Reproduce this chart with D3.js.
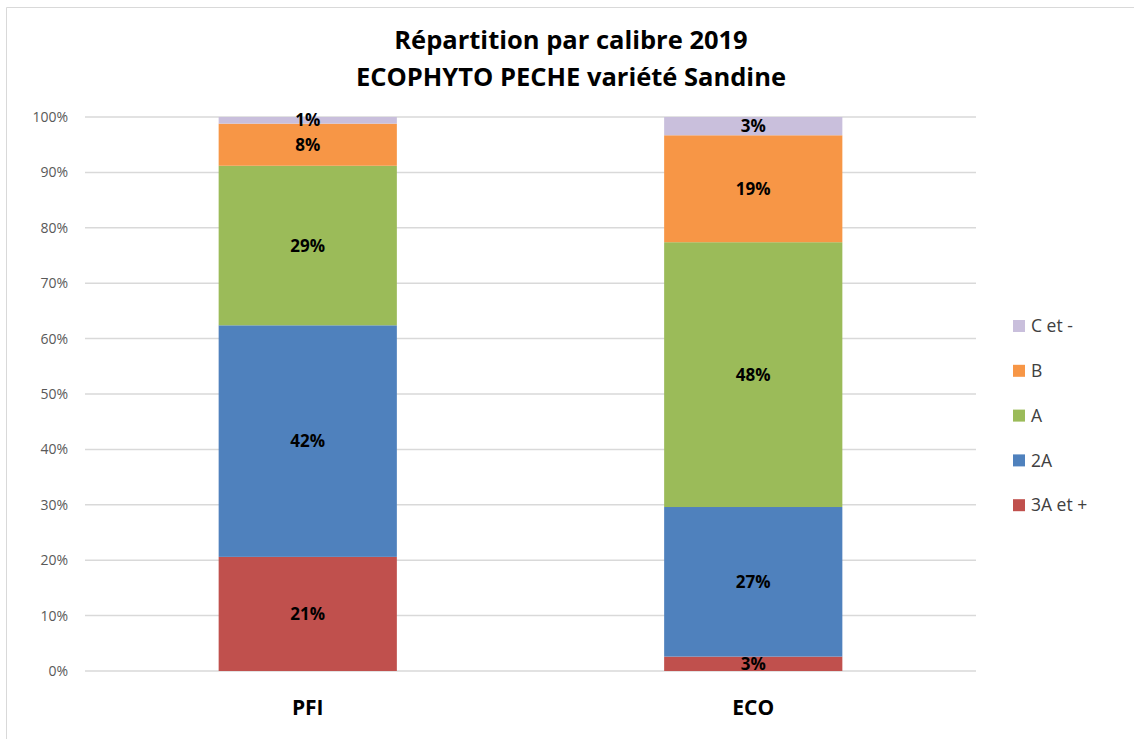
<!DOCTYPE html>
<html lang="fr">
<head>
  <meta charset="UTF-8">
  <title>Répartition par calibre 2019</title>
  <style>
    body { margin: 0; background: #fff; font-family: "Open Sans", "Noto Sans", sans-serif; }
    .grid line { stroke: #d9d9d9; stroke-width: 1.5; }
    .tick-y { fill: #595959; font-size: 14px; }
    .bar-label { font-weight: bold; font-size: 17px; fill: #000; }
  </style>
  <script src="https://d3js.org/d3.v7.min.js"></script>
</head>
<body>
  <svg width="1134" height="739"></svg>
  <script>
    // data (share of each calibre, %)
    const groups = ["PFI", "ECO"];
    const calibres = ["3A et +", "2A", "A", "B", "C et -"];
    const colors = ["#c0504d", "#4f81bd", "#9bbb59", "#f79646", "#c9bfdc"];
    const pfi = [20.6, 41.8, 28.8, 7.6, 1.2];
    const eco = [2.6, 27.0, 47.8, 19.3, 3.3];
    const yTicks = [0, 10, 20, 30, 40, 50, 60, 70, 80, 90, 100];

    const svg = d3.select("svg");

    // chart border (only left and top edges are in the frame)
    svg.append("path")
      .attr("d", "M6.5,739V7.5H1134")
      .attr("fill", "none").attr("stroke", "#d9d9d9");

    const plotLeft = 85, plotRight = 976, plotTop = 117, plotBottom = 671;

    const x = d3.scaleBand().domain(groups).range([plotLeft, plotRight])
      .paddingInner(0.6).paddingOuter(0.3);
    const y = d3.scaleLinear().domain([0, 100]).range([plotBottom, plotTop]);

    // gridlines
    svg.append("g").attr("class", "grid")
      .selectAll("line").data(yTicks).join("line")
      .attr("x1", plotLeft).attr("x2", plotRight)
      .attr("y1", d => y(d)).attr("y2", d => y(d));

    svg.append("g").selectAll("text").data(yTicks).join("text")
      .attr("class", "tick-y")
      .attr("x", 68).attr("y", d => y(d))
      .attr("text-anchor", "end").attr("dy", "0.35em")
      .text(d => d + "%");

    const rows = groups.map((g, i) => {
      const r = { group: g };
      calibres.forEach((c, j) => { r[c] = (i === 0 ? pfi : eco)[j]; });
      return r;
    });
    const series = d3.stack().keys(calibres)(rows);

    const layer = svg.append("g").selectAll("g").data(series).join("g")
      .attr("fill", (d, i) => colors[i]);

    layer.selectAll("rect").data(d => d).join("rect")
      .attr("x", d => x(d.data.group))
      .attr("width", x.bandwidth())
      .attr("y", d => y(d[1]))
      .attr("height", d => y(d[0]) - y(d[1]));

    const labels = svg.append("g").selectAll("g").data(series).join("g");
    labels.selectAll("text").data(d => d).join("text")
      .attr("class", "bar-label")
      .attr("x", d => x(d.data.group) + x.bandwidth() / 2)
      .attr("y", d => (y(d[0]) + y(d[1])) / 2)
      .attr("text-anchor", "middle").attr("dy", "0.36em")
      .text(d => Math.round(d[1] - d[0]) + "%");

    // category labels
    svg.append("g").selectAll("text").data(groups).join("text")
      .attr("x", d => x(d) + x.bandwidth() / 2)
      .attr("y", 708)
      .attr("text-anchor", "middle").attr("dy", "0.35em")
      .attr("font-weight", "bold").attr("font-size", "21px")
      .text(d => d);

    // title
    const title = svg.append("text")
      .attr("x", 571).attr("text-anchor", "middle")
      .attr("font-weight", "bold").attr("font-size", "25.5px");
    title.append("tspan").attr("x", 571).attr("y", 49).text("Répartition par calibre 2019");
    title.append("tspan").attr("x", 571).attr("y", 86).text("ECOPHYTO PECHE variété Sandine");

    // legend, top entry is the last series
    const legend = svg.append("g").selectAll("g")
      .data(calibres.slice().reverse()).join("g")
      .attr("transform", (d, i) => `translate(1013, ${326 + i * 44.8})`);
    legend.append("rect")
      .attr("x", 0).attr("y", -6).attr("width", 12).attr("height", 12)
      .attr("fill", d => colors[calibres.indexOf(d)]);
    legend.append("text")
      .attr("x", 18).attr("dy", "0.35em")
      .attr("font-size", "17.5px").attr("fill", "#404040")
      .text(d => d);
  </script>
</body>
</html>
